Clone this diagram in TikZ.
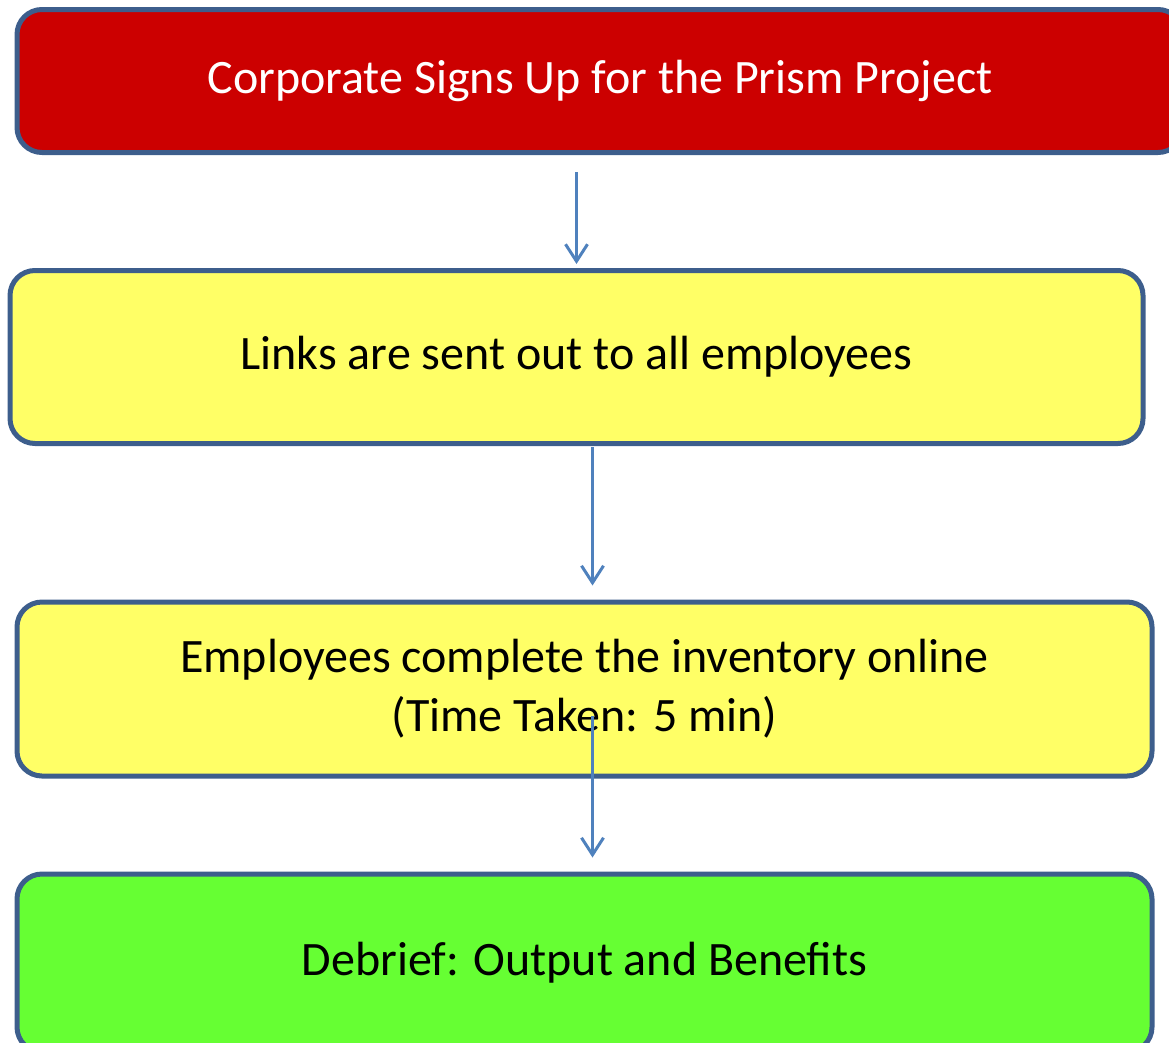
\documentclass[tikz,border=0pt]{standalone}
\usepackage{fontspec}
\setmainfont{Carlito}
\usetikzlibrary{arrows.meta}
\definecolor{frameblue}{HTML}{3D5E8C}
\definecolor{linkblue}{HTML}{4F81BD}
\definecolor{signred}{HTML}{CC0000}
\definecolor{stepyellow}{HTML}{FFFF66}
\definecolor{doneGreen}{HTML}{66FF33}
\tikzset{
  stagebox/.style={draw=frameblue, line width=5pt, rounded corners=25pt,
    align=center, font=\fontsize{48}{59}\selectfont, inner sep=0pt},
  link/.style={draw=linkblue, line width=3pt,
    -{Straight Barb[length=17pt,width=22pt,line width=3pt]}}
}
\begin{document}
\begin{tikzpicture}[x=1pt,y=-1pt]
    \useasboundingbox (0,0) rectangle (1169,1042);

    % Sign up
    \node[stagebox, fill=signred, text=white, minimum width=1166pt, minimum height=143pt]
      (signup) at (600,81) {Corporate Signs Up for the Prism Project};

    % Links sent
    \node[stagebox, fill=stepyellow, minimum width=1133pt, minimum height=173pt]
      (links) at (576.5,357) {Links are sent out to all employees};

    % Inventory
    \node[stagebox, fill=stepyellow, minimum width=1135pt, minimum height=174pt]
      (inventory) at (584.5,689) {Employees complete the inventory online\\(Time Taken: 5 min)};

    % Debrief
    \node[stagebox, fill=doneGreen, minimum width=1135pt, minimum height=178pt]
      (debrief) at (584.5,963) {Debrief: Output and Benefits};

    % Arrows
    \draw[link] ([yshift=-17pt]signup.south -| links.north) -- ([yshift=4pt]links.north);
    \draw[link] ([xshift=16pt,yshift=-1pt]links.south) coordinate (drop) -- ([yshift=14pt]inventory.north -| drop);
    \draw[link] ([yshift=-27pt]inventory.center -| drop) -- ([yshift=14pt]debrief.north -| drop);
\end{tikzpicture}
\end{document}
